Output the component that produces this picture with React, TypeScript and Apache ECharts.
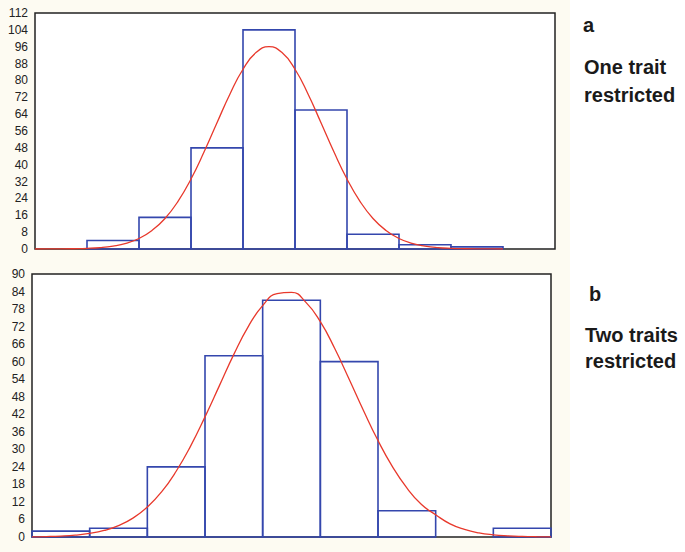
import React, { useEffect, useRef } from "react";
import * as echarts from "echarts";

// Panel a: one trait restricted (10 bins)
const topCounts = [0, 4, 15, 48, 104, 66, 7, 2, 1, 0];
const topTicks = [0, 8, 16, 24, 32, 40, 48, 56, 64, 72, 80, 88, 96, 104, 112];
// fitted curve read at bin positions 0, 0.25, ..., 9
const topCurve = [
  0.01, 0.02, 0.04, 0.13, 0.3, 0.66, 1.4, 2.7, 5.0, 8.8, 14.5, 22.6, 33.2, 46.0, 59.9, 73.6, 85.3, 93.2, 96,
  93.2, 85.3, 73.6, 59.9, 46.0, 33.2, 22.6, 14.5, 8.8, 5.0, 2.7, 1.4, 0.66, 0.3, 0.13, 0.04, 0.02, 0.01,
];

// Panel b: two traits restricted (9 bins)
const bottomCounts = [2, 3, 24, 62, 81, 60, 9, 0, 3];
const bottomTicks = [0, 6, 12, 18, 24, 30, 36, 42, 48, 54, 60, 66, 72, 78, 84, 90];
const bottomCurve = [
  0.07, 0.16, 0.33, 0.65, 1.23, 2.24, 3.89, 6.46, 10.25, 15.5, 22.5, 31.1, 41.1, 51.8, 62.5, 72.0, 79.2, 83.3,
  83.7, 80.3, 73.7, 64.5, 54.0, 43.2, 33.0, 24.1, 16.8, 11.2, 7.6, 4.5, 2.6, 1.4, 0.74, 0.38, 0.18, 0.08, 0.04,
];
const curveStep = 0.25;

const labelA = "a";
const titleA = ["One trait", "restricted"];
const labelB = "b";
const titleB = ["Two traits", "restricted"];

const BAR_COLOR = "#3447ad";
const CURVE_COLOR = "#e8392c";
const FONT = "Liberation Sans, Arial, sans-serif";

function barData(counts: number[]) {
  return counts
    .map((c, i) => [i, i + 1, c])
    .filter((d) => d[2] > 0);
}

function curveData(vals: number[]) {
  return vals.map((v, i) => [i * curveStep, v]);
}

const renderBar = (params: any, api: any) => {
  const x0 = api.value(0);
  const x1 = api.value(1);
  const h = api.value(2);
  const p0 = api.coord([x0, h]);
  const p1 = api.coord([x1, 0]);
  return {
    type: "rect",
    shape: { x: p0[0], y: p0[1], width: p1[0] - p0[0], height: p1[1] - p0[1] },
    style: { fill: "rgba(255,255,255,0)", stroke: BAR_COLOR, lineWidth: 1.6 },
  };
};

export default function App() {
  const ref = useRef<HTMLDivElement>(null);
  useEffect(() => {
    if (!ref.current) return;
    const chart = echarts.init(ref.current, null, { renderer: "svg" });
    const yAxisCommon = {
      type: "value",
      min: 0,
      splitLine: { show: false },
      axisLine: { show: false },
      axisTick: { show: false },
      axisLabel: { color: "#222", fontSize: 12, fontFamily: FONT, margin: 7 },
    };
    const xAxisCommon = {
      type: "value",
      min: 0,
      axisLine: { show: false },
      axisTick: { show: false },
      axisLabel: { show: false },
      splitLine: { show: false },
    };
    const textStyle = (t: string, x: number, y: number) => ({
      type: "text",
      x,
      y,
      style: { text: t, font: `bold 20px ${FONT}`, fill: "#1a1a1a", textVerticalAlign: "middle" },
    });
    chart.setOption({
      animation: false,
      backgroundColor: "#ffffff",
      graphic: [
        { type: "rect", z: -10, shape: { x: 0, y: 0, width: 570, height: 552 }, style: { fill: "#fdfbf2" } },
        textStyle(labelA, 583, 25),
        textStyle(titleA[0], 584, 67),
        textStyle(titleA[1], 584, 95),
        textStyle(labelB, 589, 294),
        textStyle(titleB[0], 585, 335),
        textStyle(titleB[1], 585, 361),
      ],
      grid: [
        {
          left: 35, top: 13, width: 520, height: 236,
          show: true, backgroundColor: "#ffffff", borderColor: "#222", borderWidth: 1.5,
        },
        {
          left: 32, top: 274, width: 519, height: 263,
          show: true, backgroundColor: "#ffffff", borderColor: "#222", borderWidth: 1.5,
        },
      ],
      xAxis: [
        { ...xAxisCommon, gridIndex: 0, max: topCounts.length },
        { ...xAxisCommon, gridIndex: 1, max: bottomCounts.length },
      ],
      yAxis: [
        { ...yAxisCommon, gridIndex: 0, max: topTicks[topTicks.length - 1], interval: topTicks[1] - topTicks[0] },
        { ...yAxisCommon, gridIndex: 1, max: bottomTicks[bottomTicks.length - 1], interval: bottomTicks[1] - bottomTicks[0] },
      ],
      series: [
        {
          type: "custom", xAxisIndex: 0, yAxisIndex: 0, renderItem: renderBar,
          data: barData(topCounts), encode: { x: [0, 1], y: 2 }, z: 2,
        },
        {
          type: "line", xAxisIndex: 0, yAxisIndex: 0, data: curveData(topCurve), smooth: true,
          showSymbol: false, symbol: "none", lineStyle: { color: CURVE_COLOR, width: 1.3 }, z: 3,
        },
        {
          type: "custom", xAxisIndex: 1, yAxisIndex: 1, renderItem: renderBar,
          data: barData(bottomCounts), encode: { x: [0, 1], y: 2 }, z: 2,
        },
        {
          type: "line", xAxisIndex: 1, yAxisIndex: 1, data: curveData(bottomCurve), smooth: true,
          showSymbol: false, symbol: "none", lineStyle: { color: CURVE_COLOR, width: 1.3 }, z: 3,
        },
      ],
    });
    return () => chart.dispose();
  }, []);
  return (
    <div
      ref={ref}
      style={{ position: "fixed", left: 0, top: 0, width: 685, height: 552 }}
    />
  );
}
